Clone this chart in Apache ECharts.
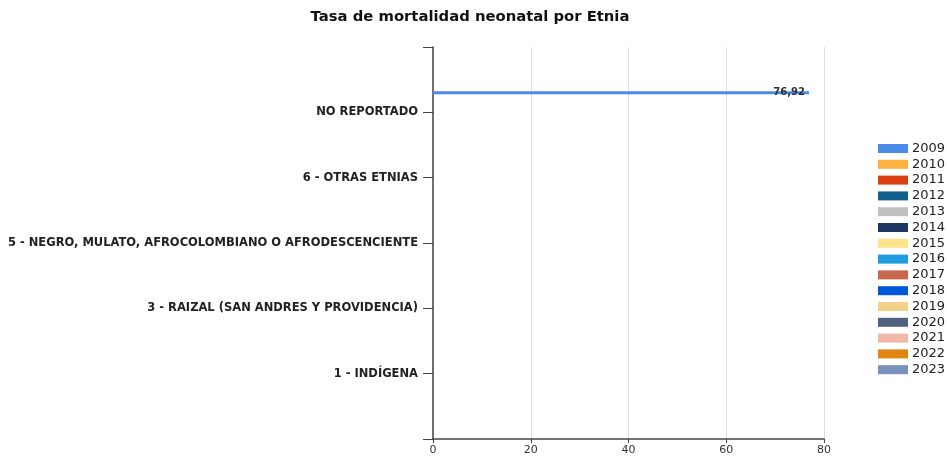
<!DOCTYPE html>
<html>
<head>
<meta charset="utf-8">
<script src="https://cdn.jsdelivr.net/npm/echarts@6/dist/echarts.min.js"></script>
<style>
  html, body { margin: 0; padding: 0; background: #fff; }
  #chart { width: 947px; height: 456px; }
</style>
</head>
<body>
<div id="chart"></div>
<script>
// categories, bottom to top
const categories = [
  "1 - INDÍGENA",
  "3 - RAIZAL (SAN ANDRES Y PROVIDENCIA)",
  "5 - NEGRO, MULATO, AFROCOLOMBIANO O AFRODESCENCIENTE",
  "6 - OTRAS ETNIAS",
  "NO REPORTADO",
];
const years = ["2009", "2010", "2011", "2012", "2013", "2014", "2015", "2016",
  "2017", "2018", "2019", "2020", "2021", "2022", "2023"];
// only 2009 has a value (NO REPORTADO)
const rates2009 = [null, null, null, null, 76.92];
const xTicks = [0, 20, 40, 60, 80];

const palette = ["#4a8ae8", "#fdb23f", "#dc4012", "#11618c", "#c0c0c0", "#1e3761",
  "#fde48a", "#1f9ce0", "#c8674c", "#0058d9", "#f2d28b", "#52627e", "#f2b8aa",
  "#e08512", "#7891bd"];

// blank slots at both ends so labels sit on the ticks like the original
const yData = [""].concat(categories, [""]);

const series = years.map((y, i) => ({
  name: y,
  type: "bar",
  barWidth: 3,
  barGap: "-7%",
  itemStyle: { color: palette[i] },
  data: i === 0 ? [null].concat(rates2009, [null]) : [],
  label: {
    show: i === 0,
    position: "insideRight",
    distance: 4,
    color: "#333",
    fontSize: 10,
    fontWeight: "bold",
    fontFamily: "DejaVu Sans",
    formatter: (p) => p.value == null ? "" : p.value.toFixed(2).replace(".", ","),
  },
}));

const chart = echarts.init(document.getElementById("chart"), null, { renderer: "canvas" });
chart.setOption({
  animation: false,
  color: palette,
  title: {
    text: "Tasa de mortalidad neonatal por Etnia",
    left: 465,
    textAlign: "center",
    top: 5,
    textStyle: { fontFamily: "DejaVu Sans", fontSize: 14.8, fontWeight: "bold", color: "#111" },
  },
  legend: {
    orient: "vertical",
    left: 878,
    top: 142,
    padding: 0,
    icon: "rect",
    itemWidth: 30,
    itemHeight: 9,
    itemGap: 2.8,
    data: years,
    textStyle: { fontFamily: "DejaVu Sans", fontSize: 13, color: "#222", padding: [0, 0, 0, -1] },
  },
  grid: { left: 433, right: 123, top: 47, bottom: 16, containLabel: false },
  xAxis: {
    type: "value",
    min: xTicks[0],
    max: xTicks[xTicks.length - 1],
    interval: 20,
    axisLine: { show: true, lineStyle: { color: "#444", width: 1.5 } },
    axisTick: { show: true, length: 4, lineStyle: { color: "#444" } },
    axisLabel: { fontFamily: "DejaVu Sans", fontSize: 11, color: "#333", margin: 6 },
    splitLine: { show: true, lineStyle: { color: "#ddd", width: 1 } },
  },
  yAxis: {
    type: "category",
    data: yData,
    boundaryGap: false,
    axisLine: { show: true, lineStyle: { color: "#444", width: 1.5 } },
    axisTick: { show: true, length: 10, alignWithLabel: true, interval: 0, lineStyle: { color: "#444" } },
    axisLabel: {
      interval: 0,
      margin: 15,
      fontFamily: "DejaVu Sans",
      fontSize: 11.5,
      fontWeight: "bold",
      color: "#222",
    },
    splitLine: { show: false },
  },
  series: series,
});
</script>
</body>
</html>
